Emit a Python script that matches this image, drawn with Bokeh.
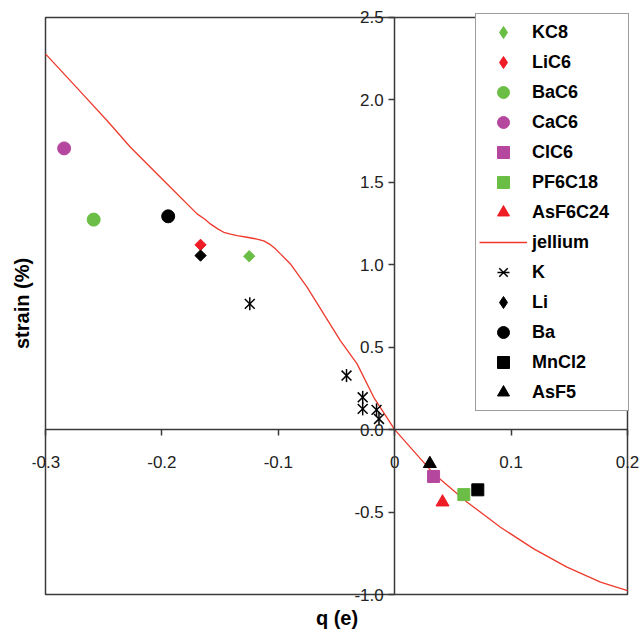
import math
from bokeh.plotting import figure
from bokeh.models import Range1d, LinearAxis, FixedTicker, Legend, LegendItem
from bokeh.embed import file_html
from bokeh.resources import INLINE

# ---- data ----
x_ticks = [-0.3, -0.2, -0.1, 0.0, 0.1, 0.2]
x_tick_labels = ["-0.3", "-0.2", "-0.1", "0", "0.1", "0.2"]
y_ticks = [-1.0, -0.5, 0.0, 0.5, 1.0, 1.5, 2.0, 2.5]
y_tick_labels = ["-1.0", "-0.5", "0.0", "0.5", "1.0", "1.5", "2.0", "2.5"]

kc8_x = [-0.1250]; kc8_y = [1.052]
lic6_x = [-0.1668]; lic6_y = [1.121]
bac6_x = [-0.2586]; bac6_y = [1.274]
cac6_x = [-0.2840]; cac6_y = [1.706]
clc6_x = [0.0334]; clc6_y = [-0.284]
pf6c18_x = [0.0594]; pf6c18_y = [-0.394]
asf6c24_x = [0.0411]; asf6c24_y = [-0.440]

jellium_x = [-0.300, -0.270, -0.247, -0.227, -0.1985, -0.1698, -0.163, -0.1584, -0.152,
             -0.1469, -0.141, -0.1354, -0.1268, -0.1200, -0.1125, -0.1068, -0.1030,
             -0.0982, -0.0940, -0.0896, -0.0753, -0.0610, -0.0467, -0.0323,
             -0.018, 0.0, 0.0336, 0.0623, 0.0909, 0.1195, 0.148, 0.1768, 0.200]
jellium_y = [2.279, 2.050, 1.874, 1.713, 1.511, 1.309, 1.276, 1.248, 1.218,
             1.197, 1.186, 1.177, 1.167, 1.158, 1.145, 1.122, 1.100,
             1.066, 1.037, 1.005, 0.864, 0.702, 0.540, 0.399,
             0.196, 0.0, -0.268, -0.440, -0.592, -0.723, -0.834, -0.925, -0.976]

k_x = [-0.1245, -0.0414, -0.0275, -0.0275, -0.0156, -0.0135]
k_y = [0.763, 0.328, 0.196, 0.126, 0.120, 0.065]
li_x = [-0.1668]; li_y = [1.056]
ba_x = [-0.1946]; ba_y = [1.294]
mncl2_x = [0.0714]; mncl2_y = [-0.365]
asf5_x = [0.0302]; asf5_y = [-0.207]

GREEN = "#6BBE45"
RED = "#EE1C25"
MAGENTA = "#B5489E"
BLACK = "#000000"
AXIS = "#3a3a3a"
FONT = "Liberation Sans"

# frame is a little larger than the data box so edge tick labels are not clipped
X_PAD_L, X_PAD_R = 0.01117, 0.01203
Y_PAD_B, Y_PAD_T = 0.07277, 0.10310
p = figure(width=641, height=631,
           x_range=Range1d(x_ticks[0] - X_PAD_L, x_ticks[-1] + X_PAD_R),
           y_range=Range1d(y_ticks[0] - Y_PAD_B, y_ticks[-1] + Y_PAD_T),
           output_backend="svg", toolbar_location=None,
           min_border_left=32, min_border_right=0,
           min_border_top=0, min_border_bottom=25)
p.grid.visible = False
p.outline_line_color = None
p.background_fill_color = "white"
p.border_fill_color = "white"

# label-only frame axes
for ax, lab in ((p.xaxis[0], "q (e)"), (p.yaxis[0], "strain (%)")):
    ax.ticker = FixedTicker(ticks=[])
    ax.axis_line_color = None
    ax.major_tick_out = 0
    ax.major_tick_in = 0
    ax.minor_tick_out = 0
    ax.minor_tick_in = 0
    ax.axis_label = lab
    ax.axis_label_standoff = 0
    ax.axis_label_text_font = FONT
    ax.axis_label_text_font_style = "bold"
    ax.axis_label_text_font_size = "20px"
    ax.axis_label_text_color = BLACK

# the plot box
p.quad(left=[x_ticks[0]], right=[x_ticks[-1]], bottom=[y_ticks[0]], top=[y_ticks[-1]],
       fill_color=None, line_color=AXIS, line_width=1.5)

# crossing axes at zero
cx = LinearAxis(fixed_location=0, ticker=FixedTicker(ticks=x_ticks),
                bounds=(x_ticks[0], x_ticks[-1]),
                major_label_overrides=dict(zip(x_ticks, x_tick_labels)))
cy = LinearAxis(fixed_location=0, ticker=FixedTicker(ticks=y_ticks),
                bounds=(y_ticks[0], y_ticks[-1]),
                major_label_overrides=dict(zip(y_ticks, y_tick_labels)))
for ax, st in ((cx, 20), (cy, 5)):
    ax.axis_line_color = AXIS
    ax.axis_line_width = 1.5
    ax.major_tick_line_color = AXIS
    ax.major_tick_line_width = 1.5
    ax.major_tick_out = 6
    ax.major_tick_in = 0
    ax.minor_tick_out = 0
    ax.minor_tick_in = 0
    ax.major_label_standoff = st
    ax.major_label_text_font = FONT
    ax.major_label_text_font_size = "17px"
    ax.major_label_text_color = "#222222"
p.add_layout(cx, "below")
p.add_layout(cy, "left")

# jellium curve
r_jel = p.line(jellium_x, jellium_y, line_color="#EE3A2C", line_width=1.3)

D = math.pi / 4
# diamonds: a Bokeh 'diamond' (used by the legend) under a rotated square
lg_kc8 = p.scatter(kc8_x, kc8_y, marker="diamond", size=10, fill_color=GREEN, line_color=GREEN)
lg_lic6 = p.scatter(lic6_x, lic6_y, marker="diamond", size=10, fill_color=RED, line_color=RED)
lg_li = p.scatter(li_x, li_y, marker="diamond", size=10, fill_color=BLACK, line_color=BLACK)
p.scatter(kc8_x, kc8_y, marker="square", angle=D, size=8, fill_color=GREEN, line_color=GREEN)
p.scatter(lic6_x, lic6_y, marker="square", angle=D, size=8, fill_color=RED, line_color=RED)
p.scatter(li_x, li_y, marker="square", angle=D, size=8, fill_color=BLACK, line_color=BLACK)

r_bac6 = p.scatter(bac6_x, bac6_y, marker="circle", size=13, fill_color=GREEN, line_color=GREEN)
r_cac6 = p.scatter(cac6_x, cac6_y, marker="circle", size=13, fill_color=MAGENTA, line_color=MAGENTA)
r_ba = p.scatter(ba_x, ba_y, marker="circle", size=13, fill_color=BLACK, line_color=BLACK)
r_k1 = p.scatter(k_x, k_y, marker="x", size=14, line_color=BLACK, line_width=1.5)
r_k2 = p.scatter(k_x, k_y, marker="dash", angle=math.pi / 2, size=13, line_color=BLACK, line_width=1.5)
r_asf5 = p.scatter(asf5_x, asf5_y, marker="triangle", size=13, fill_color=BLACK, line_color=BLACK)
r_clc6 = p.scatter(clc6_x, clc6_y, marker="square", size=12, fill_color=MAGENTA, line_color=MAGENTA)
r_asf6 = p.scatter(asf6c24_x, asf6c24_y, marker="triangle", size=13, fill_color=RED, line_color=RED)
r_pf6 = p.scatter(pf6c18_x, pf6c18_y, marker="square", size=12, fill_color=GREEN, line_color=GREEN)
r_mn = p.scatter(mncl2_x, mncl2_y, marker="square", size=12, fill_color=BLACK, line_color=BLACK)

items = [
    LegendItem(label="KC8", renderers=[lg_kc8]),
    LegendItem(label="LiC6", renderers=[lg_lic6]),
    LegendItem(label="BaC6", renderers=[r_bac6]),
    LegendItem(label="CaC6", renderers=[r_cac6]),
    LegendItem(label="ClC6", renderers=[r_clc6]),
    LegendItem(label="PF6C18", renderers=[r_pf6]),
    LegendItem(label="AsF6C24", renderers=[r_asf6]),
    LegendItem(label="jellium", renderers=[r_jel]),
    LegendItem(label="K", renderers=[r_k1, r_k2]),
    LegendItem(label="Li", renderers=[lg_li]),
    LegendItem(label="Ba", renderers=[r_ba]),
    LegendItem(label="MnCl2", renderers=[r_mn]),
    LegendItem(label="AsF5", renderers=[r_asf5]),
]
legend = Legend(items=items, location=(443, 195), margin=0, padding=3, spacing=0,
                glyph_height=30, glyph_width=48, label_height=30, label_width=93,
                label_standoff=5, border_line_color=AXIS, border_line_width=1.5,
                background_fill_color="white", background_fill_alpha=1.0,
                label_text_font=FONT, label_text_font_style="bold",
                label_text_font_size="18px", label_text_color=BLACK)
p.add_layout(legend)

open("out.html", "w").write(file_html(p, INLINE))
